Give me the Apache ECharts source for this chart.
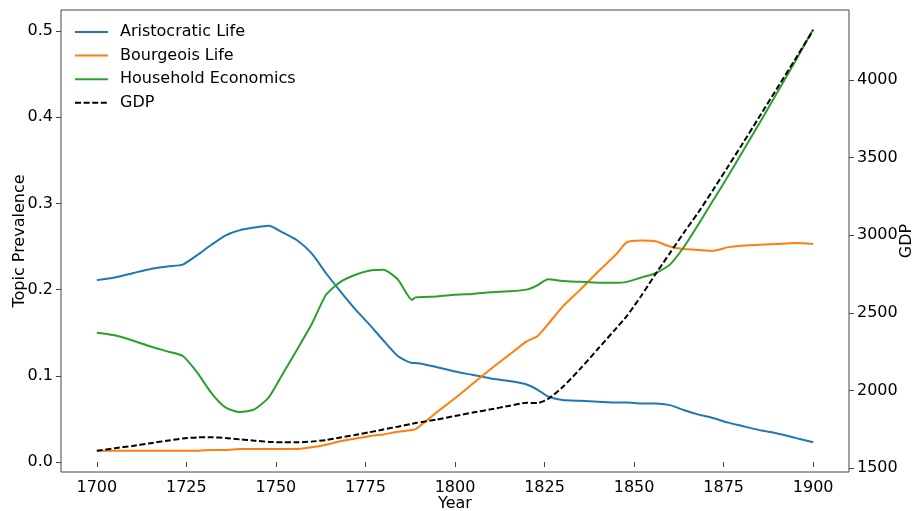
<!DOCTYPE html>
<html>
<head>
<meta charset="utf-8">
<script src="https://cdn.jsdelivr.net/npm/echarts@6/dist/echarts.min.js"></script>
<style>
  html, body { margin: 0; padding: 0; background: #fff; }
  #chart { width: 915px; height: 511px; }
</style>
</head>
<body>
<div id="chart"></div>
<script>
const years = [1700, 1705, 1710, 1715, 1720, 1724, 1728, 1732, 1736, 1740, 1744, 1748, 1752, 1756, 1760, 1764, 1768, 1772, 1776, 1780, 1784, 1788, 1789, 1795, 1800, 1805, 1810, 1815, 1820, 1823, 1826, 1830, 1835, 1840, 1845, 1848, 1852, 1856, 1860, 1864, 1868, 1872, 1876, 1880, 1885, 1890, 1895, 1900];

const aristocratic = [0.211, 0.214, 0.219, 0.224, 0.227, 0.229, 0.240, 0.252, 0.263, 0.269, 0.272, 0.274, 0.266, 0.257, 0.242, 0.219, 0.198, 0.178, 0.160, 0.141, 0.123, 0.115, 0.115, 0.110, 0.105, 0.101, 0.097, 0.094, 0.090, 0.084, 0.076, 0.072, 0.071, 0.070, 0.069, 0.069, 0.068, 0.068, 0.066, 0.060, 0.055, 0.051, 0.046, 0.042, 0.037, 0.033, 0.028, 0.023];

const bourgeois = [0.013, 0.013, 0.013, 0.013, 0.013, 0.013, 0.013, 0.014, 0.014, 0.015, 0.015, 0.015, 0.015, 0.015, 0.017, 0.020, 0.024, 0.027, 0.030, 0.032, 0.035, 0.037, 0.038, 0.058, 0.074, 0.091, 0.108, 0.124, 0.140, 0.146, 0.160, 0.180, 0.200, 0.221, 0.241, 0.255, 0.257, 0.256, 0.250, 0.247, 0.246, 0.245, 0.249, 0.251, 0.252, 0.253, 0.254, 0.253];

const household = [0.150, 0.147, 0.141, 0.134, 0.128, 0.123, 0.104, 0.080, 0.063, 0.058, 0.061, 0.075, 0.103, 0.131, 0.160, 0.194, 0.209, 0.217, 0.222, 0.223, 0.212, 0.188, 0.191, 0.192, 0.194, 0.195, 0.197, 0.198, 0.200, 0.205, 0.212, 0.210, 0.209, 0.208, 0.208, 0.209, 0.214, 0.219, 0.229, 0.250, 0.276, 0.303, 0.330, 0.358, 0.393, 0.429, 0.465, 0.502];

const gdp = [1611, 1627, 1642, 1660, 1677, 1690, 1697, 1698, 1693, 1684, 1676, 1668, 1665, 1665, 1670, 1680, 1696, 1712, 1730, 1748, 1766, 1785, 1790, 1812, 1835, 1857, 1878, 1900, 1920, 1918, 1945, 2020, 2140, 2270, 2400, 2480, 2610, 2750, 2885, 3020, 3150, 3290, 3435, 3580, 3765, 3950, 4135, 4322];

const yearTicks = [1700, 1725, 1750, 1775, 1800, 1825, 1850, 1875, 1900];
const prevalenceTicks = [0, 0.1, 0.2, 0.3, 0.4, 0.5];
const gdpTicks = [1500, 2000, 2500, 3000, 3500, 4000];

function pairs(vals) {
  return years.map((y, i) => [y, vals[i]]);
}

const font = "DejaVu Sans";
const chart = echarts.init(document.getElementById("chart"), null, { renderer: "canvas" });

const lineSeries = (name, vals, color, axis, dashed) => ({
  name: name,
  type: "line",
  xAxisIndex: 0,
  yAxisIndex: axis,
  data: pairs(vals),
  showSymbol: false,
  symbol: "none",
  smooth: 0.2,
  lineStyle: { color: color, width: 2, type: dashed ? [6, 2.6] : "solid" },
  itemStyle: { color: color },
  emphasis: { disabled: true },
});

chart.setOption({
  animation: false,
  backgroundColor: "#fff",
  textStyle: { fontFamily: font },
  grid: {
    left: 61, right: 66, top: 10, bottom: 39,
    containLabel: false, outerBoundsMode: "none",
    show: true, borderColor: "#444", borderWidth: 1, backgroundColor: "transparent",
  },
  legend: {
    orient: "vertical",
    left: 74, top: 24,
    padding: 0,
    itemWidth: 33, itemHeight: 14, itemGap: 7.6,
    itemStyle: { color: "rgba(0,0,0,0)", borderWidth: 0 },
    textStyle: { fontSize: 16, color: "#000", fontFamily: font, padding: [0, 0, 0, 7] },
    data: ["Aristocratic Life", "Bourgeois Life", "Household Economics", "GDP"],
  },
  xAxis: {
    type: "value",
    min: 1690, max: 1910,
    name: "Year", nameLocation: "middle", nameGap: 24, nameMoveOverlap: false,
    nameTextStyle: { fontSize: 16, color: "#000", fontFamily: font },
    axisLine: { show: false },
    axisTick: { show: true, inside: false, length: 5, customValues: yearTicks, lineStyle: { color: "#444" } },
    axisLabel: { customValues: yearTicks, fontSize: 16, color: "#000", fontFamily: font, margin: 8, formatter: (v) => String(v) },
    splitLine: { show: false },
  },
  yAxis: [
    {
      type: "value",
      min: -0.0116, max: 0.5244,
      position: "left",
      name: "Topic Prevalence", nameLocation: "middle", nameGap: 33, nameRotate: 90, nameMoveOverlap: false,
      nameTextStyle: { fontSize: 16, color: "#000", fontFamily: font },
      axisLine: { show: false },
      axisTick: { show: true, inside: false, length: 5, customValues: prevalenceTicks, lineStyle: { color: "#444" } },
      axisLabel: {
        customValues: prevalenceTicks, fontSize: 16, color: "#000", fontFamily: font, margin: 8,
        formatter: (v) => v.toFixed(1),
      },
      splitLine: { show: false },
    },
    {
      type: "value",
      min: 1474, max: 4452,
      position: "right",
      name: "GDP", nameLocation: "middle", nameGap: 50, nameRotate: 90, nameMoveOverlap: false,
      nameTextStyle: { fontSize: 16, color: "#000", fontFamily: font },
      axisLine: { show: false },
      axisTick: { show: true, inside: false, length: 5, customValues: gdpTicks, lineStyle: { color: "#444" } },
      axisLabel: { customValues: gdpTicks, fontSize: 16, color: "#000", fontFamily: font, margin: 8, formatter: (v) => String(v) },
      splitLine: { show: false },
    },
  ],
  series: [
    lineSeries("Aristocratic Life", aristocratic, "#1f77b4", 0, false),
    lineSeries("Bourgeois Life", bourgeois, "#ff7f0e", 0, false),
    lineSeries("Household Economics", household, "#2ca02c", 0, false),
    lineSeries("GDP", gdp, "#000000", 1, true),
  ],
});
</script>
</body>
</html>
